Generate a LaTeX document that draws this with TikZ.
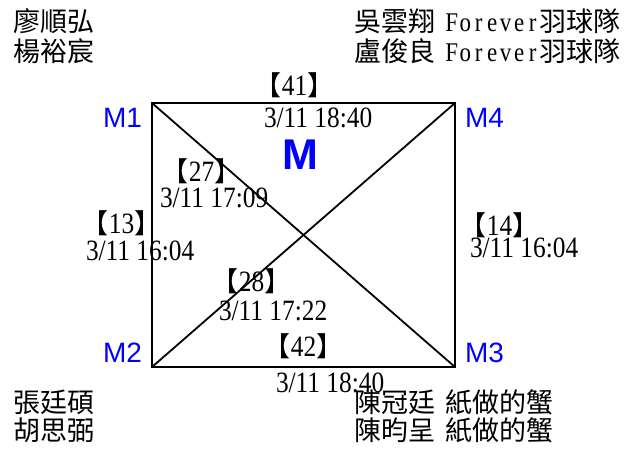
\documentclass[tikz,border=0pt]{standalone}
\usepackage{fontspec}
\setmainfont{Liberation Serif}
\newfontfamily\cjk{Noto Sans CJK TC}
\newfontfamily\digf{Liberation Serif}[FakeStretch=0.86]
\newfontfamily\fwf{Liberation Serif}[FakeStretch=0.85]
\newfontfamily\msans{Liberation Sans}
\newcommand\cjkt[1]{{\cjk\fontsize{27}{27}\selectfont #1}}
\newcommand\cellc[1]{\makebox[13.5pt]{#1}}
\newcommand\fever{{\fwf\fontsize{27}{27}\selectfont\cellc{F}\cellc{o}\cellc{r}\cellc{e}\cellc{v}\cellc{e}\cellc{r}}}
\newcommand\bnum[1]{\cjkt{【}#1\cjkt{】}}
\begin{document}
\begin{tikzpicture}[x=1pt,y=-1pt,
  lab/.style={inner sep=0pt,outer sep=0pt},
  cj/.style={lab,font=\cjk\fontsize{27}{27}\selectfont,anchor=base west},
  dt/.style={lab,font=\digf\fontsize{29.5}{29.5}\selectfont,anchor=base west},
  br/.style={lab,font=\digf\fontsize{29.5}{29.5}\selectfont,anchor=base},
  mk/.style={lab,font=\msans\fontsize{28}{28}\selectfont,text=blue,anchor=base west},
  edge/.style={draw=black,line width=1.8pt}]
\useasboundingbox (0,0) rectangle (624,448);
% corners
\coordinate (c1) at (152,103);
\coordinate (c4) at (455,103);
\coordinate (c2) at (152,367);
\coordinate (c3) at (455,367);
\draw[edge] (c1) -- (c4) -- (c3) -- (c2) -- cycle;
\draw[edge] (c1) -- (c3);
\draw[edge] (c2) -- (c4);
% corner labels
\node[mk] (m1) at (103,127) {M1};
\node[mk] (m4) at (465,127) {M4};
\node[mk] (m2) at (103,362) {M2};
\node[mk] (m3) at (465,362) {M3};
\node[lab,font=\msans\bfseries\fontsize{43}{43}\selectfont,text=blue,anchor=base west] (mm) at (282,169) {M};
% players
\node[cj] (p1) at (13,31) {廖順弘};
\node[cj] (p2) at (13,61) {楊裕宸};
\node[cj] (p3) at (354,31) {吳雲翔\hspace{10pt}\fever 羽球隊};
\node[cj] (p4) at (354,61) {盧俊良\hspace{10pt}\fever 羽球隊};
\node[cj] (p5) at (13,412) {張廷碩};
\node[cj] (p6) at (13,440) {胡思弼};
\node[cj] (p7) at (354,412) {陳冠廷\hspace{11pt}紙做的蟹};
\node[cj] (p8) at (354,440) {陳昀呈\hspace{11pt}紙做的蟹};
% match labels
\node[br] (b41) at (294.5,95) {\bnum{41}};
\node[dt] (d41) at (264,127) {3/11 18:40};
\node[br] (b27) at (201.5,181) {\bnum{27}};
\node[dt] (d27) at (160,207) {3/11 17:09};
\node[br] (b13) at (121.5,233) {\bnum{13}};
\node[dt] (d13) at (86,260) {3/11 16:04};
\node[br] (b14) at (499.5,235) {\bnum{14}};
\node[dt] (d14) at (470,257) {3/11 16:04};
\node[br] (b28) at (251.5,291) {\bnum{28}};
\node[dt] (d28) at (219,320) {3/11 17:22};
\node[br] (b42) at (303.5,356) {\bnum{42}};
\node[dt] (d42) at (276,392) {3/11 18:40};
\end{tikzpicture}
\end{document}
